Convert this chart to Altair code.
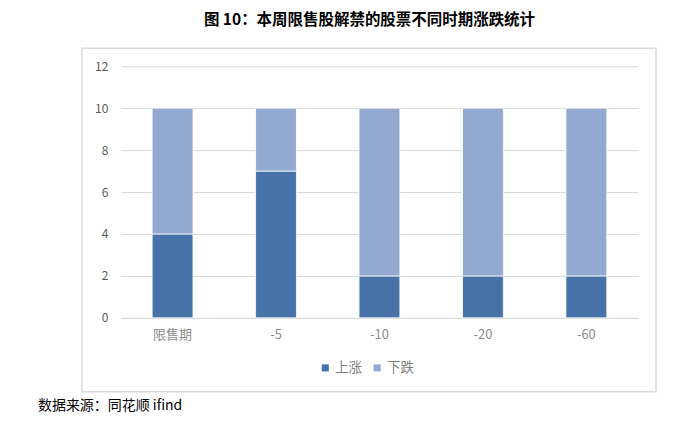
import altair as alt
import pandas as pd

categories = ["限售期", "-5", "-10", "-20", "-60"]
up_values = [4, 7, 2, 2, 2]
down_values = [6, 3, 8, 8, 8]
series_names = ["上涨", "下跌"]
colors = ["#4672a8", "#94a9d0"]
y_ticks = [0, 2, 4, 6, 8, 10, 12]

rows = []
for c, u, d in zip(categories, up_values, down_values):
    rows.append({"cat": c, "series": series_names[0], "value": u, "order": 0})
    rows.append({"cat": c, "series": series_names[1], "value": d, "order": 1})
df = pd.DataFrame(rows)

FONT = "Noto Sans CJK SC"

bars = alt.Chart(df).mark_bar(stroke="#ffffff", strokeWidth=0.8).encode(
    x=alt.X("cat:N", sort=categories, title=None,
            scale=alt.Scale(paddingInner=0.605, paddingOuter=0.3025),
            axis=alt.Axis(labelAngle=0, labelFont=FONT, labelFontSize=13,
                          labelColor="#8c8c8c", labelPadding=11, ticks=False,
                          domain=True, domainColor="#d9d9d9", grid=False)),
    y=alt.Y("value:Q", stack="zero", title=None,
            scale=alt.Scale(domain=[0, 12], nice=False),
            axis=alt.Axis(values=y_ticks, labelFont=FONT, labelFontSize=12,
                          labelColor="#595959", labelPadding=13, ticks=False,
                          domain=False, gridColor="#d9d9d9", gridWidth=1)),
    color=alt.Color("series:N", sort=series_names,
                    scale=alt.Scale(domain=series_names, range=colors),
                    legend=alt.Legend(orient="none", legendX=198, legendY=295,
                                      direction="horizontal", title=None,
                                      symbolType="square", symbolSize=50,
                                      symbolStrokeWidth=0,
                                      labelFont=FONT, labelFontSize=13.5,
                                      labelColor="#7f7f7f", columnPadding=8,
                                      labelOffset=3)),
    order=alt.Order("order:Q"),
)

box = alt.Chart(pd.DataFrame({"a": [0]})).mark_rect(
    fill=None, stroke="#d9d9d9", strokeWidth=1.5
).encode(x=alt.value(-39), x2=alt.value(536), y=alt.value(-18), y2=alt.value(326))

source = alt.Chart(pd.DataFrame({"t": ["数据来源：同花顺 ifind"]})).mark_text(
    align="left", baseline="middle", font=FONT, fontSize=14, color="#000000"
).encode(text="t:N", x=alt.value(-83), y=alt.value(340))

chart = alt.layer(box, bars, source).properties(
    width=518, height=252,
    padding={"left": 113, "top": 58, "right": 52, "bottom": 96},
    autosize=alt.AutoSizeParams(type="none"),
    title=alt.Title("图 10：本周限售股解禁的股票不同时期涨跌统计",
                    font=FONT, fontSize=15.5, fontWeight="bold", color="#000000",
                    anchor="middle", dx=-10, offset=19),
).configure_view(stroke=None)

chart.save("out.html", embed_options={"renderer": "svg", "actions": False})
